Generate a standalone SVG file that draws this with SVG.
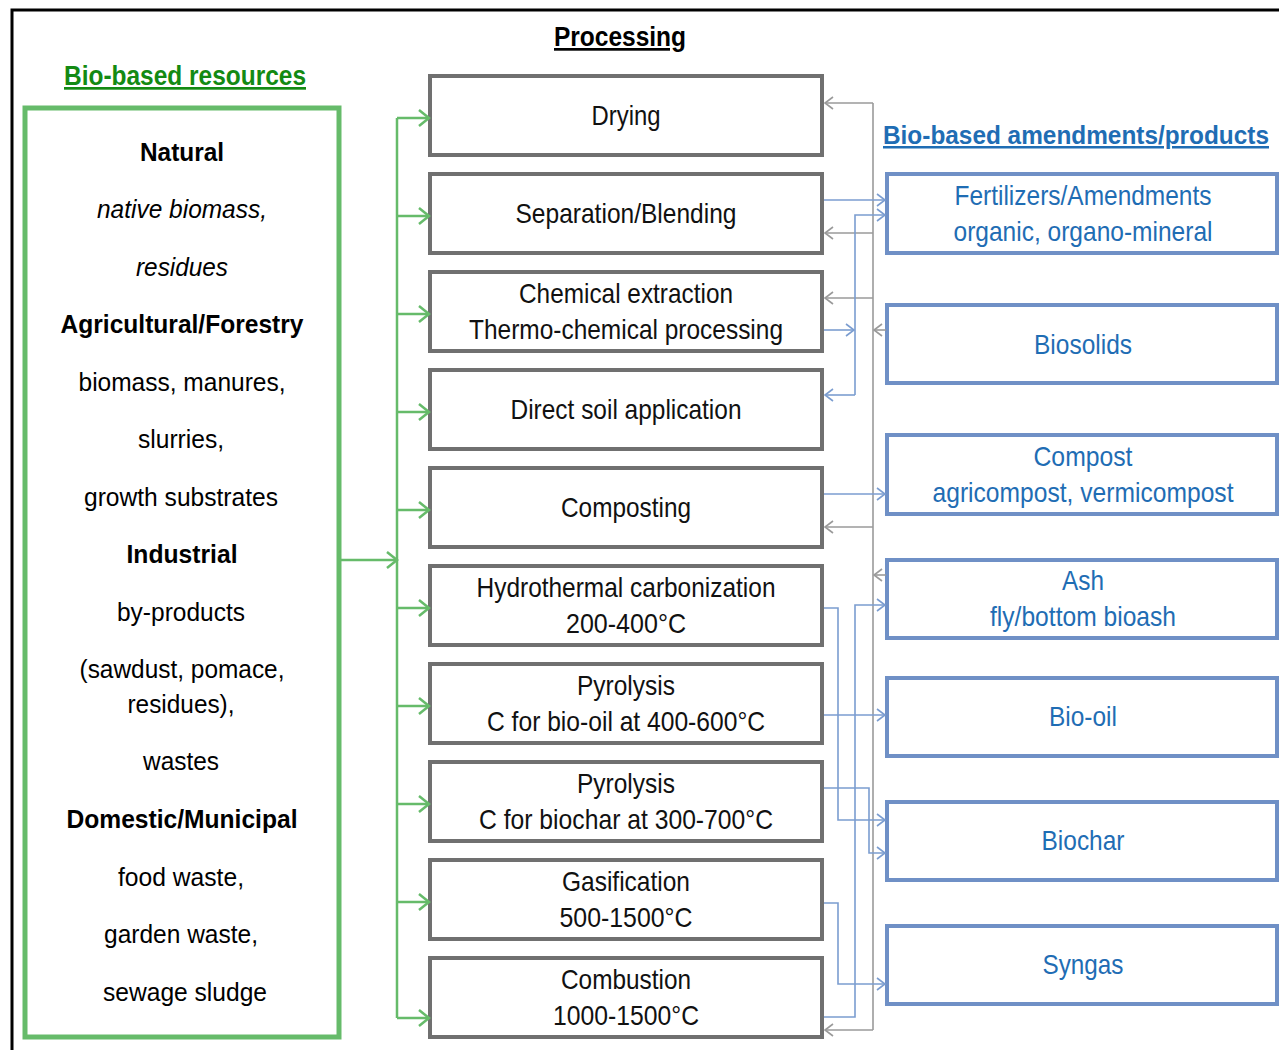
<svg xmlns="http://www.w3.org/2000/svg" width="1279" height="1050" viewBox="0 0 1279 1050">
<defs>
<style>
text{font-family:"Liberation Sans",Arial,sans-serif;text-anchor:middle}
.h{font-weight:bold;font-size:27px;text-decoration:underline}
.l{font-size:25px;fill:#000}
.lb{font-size:25px;font-weight:bold;fill:#000}
.li{font-size:25px;font-style:italic;fill:#000}
.p{font-size:28px;fill:#111}
.q{font-size:28px;fill:#1f6db4}
.pb{fill:#fff;stroke:#707070;stroke-width:4}
.qb{fill:#fff;stroke:#6f90c6;stroke-width:4}
.g{fill:none;stroke:#66bb6a;stroke-width:2.5}
.b{fill:none;stroke:#7b9dd0;stroke-width:1.6}
.k{fill:none;stroke:#9a9a9a;stroke-width:1.6}
</style>
<marker id="ag" markerUnits="userSpaceOnUse" markerWidth="14" markerHeight="20" refX="11" refY="9" orient="auto"><path d="M1,1 L11,9 L1,17" fill="none" stroke="#66bb6a" stroke-width="2.5"/></marker>
<marker id="ab" markerUnits="userSpaceOnUse" markerWidth="12" markerHeight="16" refX="9" refY="7" orient="auto"><path d="M1,1 L9,7 L1,13" fill="none" stroke="#7b9dd0" stroke-width="1.6"/></marker>
<marker id="ak" markerUnits="userSpaceOnUse" markerWidth="12" markerHeight="16" refX="9" refY="7" orient="auto"><path d="M1,1 L9,7 L1,13" fill="none" stroke="#9a9a9a" stroke-width="1.6"/></marker>
</defs>
<rect width="1279" height="1050" fill="#fff"/>
<path d="M12,1050 V10 H1279" fill="none" stroke="#000" stroke-width="3"/>

<g id="headings">
<text class="h" x="620" y="46" fill="#000" textLength="132" lengthAdjust="spacingAndGlyphs">Processing</text>
<text class="h" x="185" y="85" fill="#138a13" textLength="242" lengthAdjust="spacingAndGlyphs">Bio-based resources</text>
<text class="h" x="1076" y="144" fill="#1f6db4" style="font-size:25px" textLength="386" lengthAdjust="spacingAndGlyphs">Bio-based amendments/products</text>
</g>

<g id="resources">
<rect x="25" y="108" width="314" height="929" fill="#fff" stroke="#66bb6a" stroke-width="5"/>
<text class="lb" x="182" y="161" textLength="84" lengthAdjust="spacingAndGlyphs">Natural</text>
<text class="li" x="182" y="218" textLength="170" lengthAdjust="spacingAndGlyphs">native biomass,</text>
<text class="li" x="182" y="276" textLength="92" lengthAdjust="spacingAndGlyphs">residues</text>
<text class="lb" x="182" y="333" textLength="243" lengthAdjust="spacingAndGlyphs">Agricultural/Forestry</text>
<text class="l" x="182" y="391" textLength="207" lengthAdjust="spacingAndGlyphs">biomass, manures,</text>
<text class="l" x="181" y="448" textLength="86" lengthAdjust="spacingAndGlyphs">slurries,</text>
<text class="l" x="181" y="506" textLength="194" lengthAdjust="spacingAndGlyphs">growth substrates</text>
<text class="lb" x="182" y="563" textLength="111" lengthAdjust="spacingAndGlyphs">Industrial</text>
<text class="l" x="181" y="621" textLength="128" lengthAdjust="spacingAndGlyphs">by-products</text>
<text class="l" x="182" y="678" textLength="205" lengthAdjust="spacingAndGlyphs">(sawdust, pomace,</text>
<text class="l" x="181" y="713" textLength="107" lengthAdjust="spacingAndGlyphs">residues),</text>
<text class="l" x="181" y="770" textLength="76" lengthAdjust="spacingAndGlyphs">wastes</text>
<text class="lb" x="182" y="828" textLength="231" lengthAdjust="spacingAndGlyphs">Domestic/Municipal</text>
<text class="l" x="181" y="886" textLength="126" lengthAdjust="spacingAndGlyphs">food waste,</text>
<text class="l" x="181" y="943" textLength="154" lengthAdjust="spacingAndGlyphs">garden waste,</text>
<text class="l" x="185" y="1001" textLength="164" lengthAdjust="spacingAndGlyphs">sewage sludge</text>
</g>

<g id="processing">
<g id="drying"><rect class="pb" x="430" y="76" width="392" height="79"/><text class="p" x="626" y="125" textLength="69" lengthAdjust="spacingAndGlyphs">Drying</text></g>
<g id="separation"><rect class="pb" x="430" y="174" width="392" height="79"/><text class="p" x="626" y="223" textLength="221" lengthAdjust="spacingAndGlyphs">Separation/Blending</text></g>
<g id="chemical"><rect class="pb" x="430" y="272" width="392" height="79"/><text class="p" x="626" y="303" textLength="214" lengthAdjust="spacingAndGlyphs">Chemical extraction</text><text class="p" x="626" y="339" textLength="314" lengthAdjust="spacingAndGlyphs">Thermo-chemical processing</text></g>
<g id="direct"><rect class="pb" x="430" y="370" width="392" height="79"/><text class="p" x="626" y="419" textLength="231" lengthAdjust="spacingAndGlyphs">Direct soil application</text></g>
<g id="composting"><rect class="pb" x="430" y="468" width="392" height="79"/><text class="p" x="626" y="517" textLength="130" lengthAdjust="spacingAndGlyphs">Composting</text></g>
<g id="hydrothermal"><rect class="pb" x="430" y="566" width="392" height="79"/><text class="p" x="626" y="597" textLength="299" lengthAdjust="spacingAndGlyphs">Hydrothermal carbonization</text><text class="p" x="626" y="633" textLength="120" lengthAdjust="spacingAndGlyphs">200-400°C</text></g>
<g id="pyrolysis-oil"><rect class="pb" x="430" y="664" width="392" height="79"/><text class="p" x="626" y="695" textLength="98" lengthAdjust="spacingAndGlyphs">Pyrolysis</text><text class="p" x="626" y="731" textLength="278" lengthAdjust="spacingAndGlyphs">C for bio-oil at 400-600°C</text></g>
<g id="pyrolysis-char"><rect class="pb" x="430" y="762" width="392" height="79"/><text class="p" x="626" y="793" textLength="98" lengthAdjust="spacingAndGlyphs">Pyrolysis</text><text class="p" x="626" y="829" textLength="294" lengthAdjust="spacingAndGlyphs">C for biochar at 300-700°C</text></g>
<g id="gasification"><rect class="pb" x="430" y="860" width="392" height="79"/><text class="p" x="626" y="891" textLength="128" lengthAdjust="spacingAndGlyphs">Gasification</text><text class="p" x="626" y="927" textLength="133" lengthAdjust="spacingAndGlyphs">500-1500°C</text></g>
<g id="combustion"><rect class="pb" x="430" y="958" width="392" height="79"/><text class="p" x="626" y="989" textLength="130" lengthAdjust="spacingAndGlyphs">Combustion</text><text class="p" x="626" y="1025" textLength="146" lengthAdjust="spacingAndGlyphs">1000-1500°C</text></g>
</g>

<g id="products">
<g id="fertilizers"><rect class="qb" x="887" y="174" width="390" height="79"/><text class="q" x="1083" y="205" textLength="257" lengthAdjust="spacingAndGlyphs">Fertilizers/Amendments</text><text class="q" x="1083" y="241" textLength="259" lengthAdjust="spacingAndGlyphs">organic, organo-mineral</text></g>
<g id="biosolids"><rect class="qb" x="887" y="305" width="390" height="78"/><text class="q" x="1083" y="354" textLength="98" lengthAdjust="spacingAndGlyphs">Biosolids</text></g>
<g id="compost"><rect class="qb" x="887" y="435" width="390" height="79"/><text class="q" x="1083" y="466" textLength="99" lengthAdjust="spacingAndGlyphs">Compost</text><text class="q" x="1083" y="502" textLength="301" lengthAdjust="spacingAndGlyphs">agricompost, vermicompost</text></g>
<g id="ash"><rect class="qb" x="887" y="560" width="390" height="78"/><text class="q" x="1083" y="590" textLength="42" lengthAdjust="spacingAndGlyphs">Ash</text><text class="q" x="1083" y="626" textLength="186" lengthAdjust="spacingAndGlyphs">fly/bottom bioash</text></g>
<g id="biooil"><rect class="qb" x="887" y="678" width="390" height="78"/><text class="q" x="1083" y="726" textLength="68" lengthAdjust="spacingAndGlyphs">Bio-oil</text></g>
<g id="biochar"><rect class="qb" x="887" y="802" width="390" height="78"/><text class="q" x="1083" y="850" textLength="83" lengthAdjust="spacingAndGlyphs">Biochar</text></g>
<g id="syngas"><rect class="qb" x="887" y="926" width="390" height="78"/><text class="q" x="1083" y="974" textLength="81" lengthAdjust="spacingAndGlyphs">Syngas</text></g>
</g>

<g id="connectors">
<path class="g" d="M397,118 V1018"/>
<path class="g" d="M339,560 H397" marker-end="url(#ag)"/>
<path class="g" d="M397,118 H429" marker-end="url(#ag)"/>
<path class="g" d="M397,216 H429" marker-end="url(#ag)"/>
<path class="g" d="M397,314 H429" marker-end="url(#ag)"/>
<path class="g" d="M397,412 H429" marker-end="url(#ag)"/>
<path class="g" d="M397,510 H429" marker-end="url(#ag)"/>
<path class="g" d="M397,608 H429" marker-end="url(#ag)"/>
<path class="g" d="M397,706 H429" marker-end="url(#ag)"/>
<path class="g" d="M397,804 H429" marker-end="url(#ag)"/>
<path class="g" d="M397,902 H429" marker-end="url(#ag)"/>
<path class="g" d="M397,1018 H429" marker-end="url(#ag)"/>
<path class="k" d="M873,103 V1030"/>
<path class="k" d="M873,103 H825" marker-end="url(#ak)"/>
<path class="k" d="M873,233 H825" marker-end="url(#ak)"/>
<path class="k" d="M873,298 H825" marker-end="url(#ak)"/>
<path class="k" d="M873,527 H825" marker-end="url(#ak)"/>
<path class="k" d="M873,1030 H825" marker-end="url(#ak)"/>
<path class="k" d="M886,330 H874" marker-end="url(#ak)"/>
<path class="k" d="M886,575 H874" marker-end="url(#ak)"/>
<path class="b" d="M824,200 H885" marker-end="url(#ab)"/>
<path class="b" d="M824,330 H854" marker-end="url(#ab)"/>
<path class="b" d="M855,395 V215 H885" marker-end="url(#ab)"/>
<path class="b" d="M855,395 H825" marker-end="url(#ab)"/>
<path class="b" d="M824,494 H885" marker-end="url(#ab)"/>
<path class="b" d="M824,608 H838 V820 H885" marker-end="url(#ab)"/>
<path class="b" d="M824,1017 H855 V605 H885" marker-end="url(#ab)"/>
<path class="b" d="M824,715 H885" marker-end="url(#ab)"/>
<path class="b" d="M824,788 H869 V853 H885" marker-end="url(#ab)"/>
<path class="b" d="M824,903 H838 V984 H885" marker-end="url(#ab)"/>
</g>
</svg>
